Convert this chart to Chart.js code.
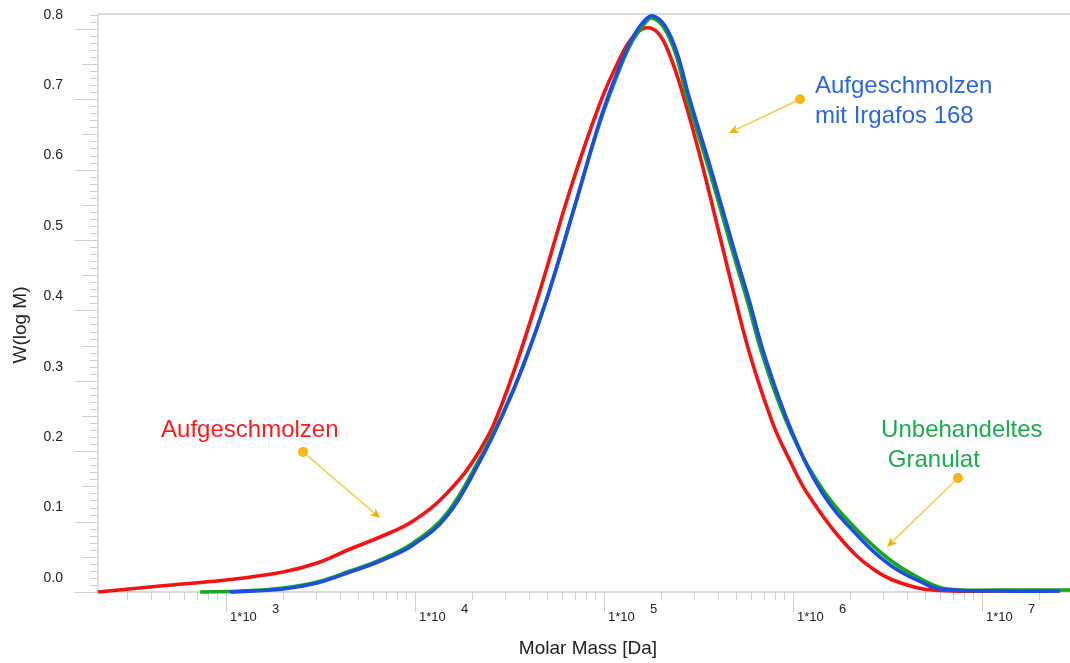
<!DOCTYPE html>
<html>
<head>
<meta charset="utf-8">
<script src="https://cdn.jsdelivr.net/npm/chart.js@4.4.1/dist/chart.umd.min.js"></script>
<style>
  html, body { margin: 0; padding: 0; background: #fff; }
  canvas { display: block; }
</style>
</head>
<body>
<canvas id="gpc" width="1070" height="663" style="width:1070px;height:663px"></canvas>
<script>
// molar mass [Da] and W(log M)
const redMass = [210.3, 447.6, 1000, 2002, 3030, 4530, 6527, 9759, 14770, 22080, 29220, 44210, 66100, 95240, 121500, 140700, 164800, 193100, 223500, 261800, 310500, 363800, 464200, 592200, 784100, 964400, 1186000, 1773000, 2650000, 4010000, 5997000, 12450000, 25240000]
const redW = [0.000, 0.0085, 0.0170, 0.0284, 0.0412, 0.0611, 0.0781, 0.1009, 0.1406, 0.2017, 0.2713, 0.4148, 0.5710, 0.6946, 0.7585, 0.7869, 0.8011, 0.7940, 0.7614, 0.7060, 0.6349, 0.5625, 0.4460, 0.3366, 0.2386, 0.1861, 0.1406, 0.0767, 0.0327, 0.0099, 0.0021, 0.0014, 0.0014]

const blueMass = [1050, 2002, 3030, 4530, 6527, 9759, 14770, 22080, 29220, 37270, 49920, 70250, 95240, 121500, 142400, 164800, 181700, 210300, 243400, 281700, 372700, 493400, 585100, 710900, 988000, 1441000, 2181000, 3261000, 4873000, 5997000, 12450000, 25860000]
const blueW = [0.000, 0.0043, 0.0128, 0.0284, 0.0440, 0.0668, 0.1080, 0.1861, 0.2528, 0.3210, 0.4176, 0.5497, 0.6705, 0.7486, 0.7884, 0.8125, 0.8182, 0.8040, 0.7656, 0.7031, 0.5952, 0.4815, 0.4148, 0.3338, 0.2273, 0.1392, 0.0810, 0.0384, 0.0128, 0.0043, 0.0014, 0.0014]

const greenMass = [728.6, 1230, 2002, 3030, 4530, 6527, 9759, 14770, 22080, 29220, 37270, 49920, 70250, 95240, 121500, 142400, 164800, 179500, 207800, 240400, 274900, 363800, 481500, 571000, 694000, 964400, 1441000, 2181000, 3261000, 4873000, 6528000, 12450000, 29220000]
const greenW = [0.000, 0.0014, 0.0057, 0.0142, 0.0298, 0.0455, 0.0696, 0.1122, 0.1903, 0.2543, 0.3210, 0.4176, 0.5497, 0.6676, 0.7443, 0.7841, 0.8082, 0.8153, 0.8011, 0.7628, 0.7017, 0.5952, 0.4815, 0.4148, 0.3338, 0.2301, 0.1449, 0.0881, 0.0455, 0.0170, 0.0043, 0.0028, 0.0028]

const seriesNames = ['Aufgeschmolzen mit Irgafos 168', 'Unbehandeltes Granulat', 'Aufgeschmolzen']

const X_MIN = 210
const X_MAX = 2.92e7
const xExponents = [3, 4, 5, 6, 7]
const Y_MAX = 0.821
const yTicks = [0, 0.1, 0.2, 0.3, 0.4, 0.5, 0.6, 0.7, 0.8]
const yTickLabels = ['0.0', '0.1', '0.2', '0.3', '0.4', '0.5', '0.6', '0.7', '0.8']

const FONT = "'Liberation Sans', Arial, Helvetica, sans-serif"
const AXIS_GREY = '#cfcfcf'
const TEXT_DARK = '#222'

// callouts: text anchor, orange dot and arrow tip, all in data coords
const callouts = [
  { lines: ['Aufgeschmolzen'], color: '#ff1a1a', text: [453, 0.220], dot: [2553, 0.199], tip: [6531, 0.105] },
  { lines: ['Aufgeschmolzen', 'mit Irgafos 168'], color: '#2a67e0', text: [1.306e6, 0.709], dot: [1.089e6, 0.700], tip: [4.58e5, 0.652] },
  { lines: ['Unbehandeltes', ' Granulat'], color: '#19ad4c', text: [2.924e6, 0.220], dot: [7.46e6, 0.162], tip: [3.14e6, 0.064] }
]

const toPoints = (mass, w) => mass.map((m, i) => ({ x: m, y: w[i] }))

const lineSet = (label, mass, w, color) => ({
  label: label,
  data: toPoints(mass, w),
  borderColor: color,
  backgroundColor: color,
  borderWidth: 3.6,
  pointRadius: 0,
  tension: 0.4,
  fill: false,
  clip: false
})

const axesPlugin = {
  id: 'axesDecor',
  beforeDatasetsDraw(chart) {
    const ctx = chart.ctx
    const { left, right, top, bottom } = chart.chartArea
    const xs = chart.scales.x
    const ys = chart.scales.y
    ctx.save()
    ctx.strokeStyle = AXIS_GREY
    ctx.lineWidth = 1.5
    ctx.beginPath()
    // frame: top, left, bottom
    ctx.moveTo(left, top); ctx.lineTo(right, top)
    ctx.moveTo(left, top); ctx.lineTo(left, bottom)
    ctx.moveTo(left, bottom); ctx.lineTo(right, bottom)
    ctx.stroke()

    ctx.lineWidth = 1
    ctx.beginPath()
    // y ticks every 0.01, medium at 0.05, long at 0.1
    for (let i = 0; i <= Math.floor(Y_MAX * 100); i++) {
      const py = Math.round(ys.getPixelForValue(i / 100)) + 0.5
      const len = i % 10 === 0 ? 23 : (i % 5 === 0 ? 16 : 8)
      ctx.moveTo(left - len, py); ctx.lineTo(left, py)
    }
    // x ticks: decades long, 2..9 short
    for (let n = 2; n <= 7; n++) {
      for (let k = 1; k <= 9; k++) {
        const m = k * Math.pow(10, n)
        if (m < X_MIN || m > X_MAX) continue
        const px = Math.round(xs.getPixelForValue(m)) + 0.5
        const len = k === 1 ? 20 : 8
        ctx.moveTo(px, bottom); ctx.lineTo(px, bottom + len)
      }
    }
    ctx.stroke()
    ctx.restore()
  },
  afterDatasetsDraw(chart) {
    const ctx = chart.ctx
    const { left, right, top, bottom } = chart.chartArea
    const xs = chart.scales.x
    const ys = chart.scales.y
    ctx.save()

    // y tick labels sit a little above their tick
    ctx.fillStyle = TEXT_DARK
    ctx.font = '14px ' + FONT
    ctx.textAlign = 'right'
    ctx.textBaseline = 'middle'
    yTicks.forEach((v, i) => {
      ctx.fillText(yTickLabels[i], left - 35, ys.getPixelForValue(v) - 14)
    })

    // x tick labels 1*10^n
    ctx.font = '13px ' + FONT
    ctx.textAlign = 'left'
    xExponents.forEach(n => {
      const px = xs.getPixelForValue(Math.pow(10, n))
      ctx.fillText('1*10', px + 4, bottom + 25)
      ctx.fillText(String(n), px + 46, bottom + 17)
    })

    // axis titles
    ctx.font = '19px ' + FONT
    ctx.textAlign = 'center'
    ctx.fillText('Molar Mass [Da]', (left + right) / 2 + 4, bottom + 57)
    ctx.save()
    ctx.translate(21, 325)
    ctx.rotate(-Math.PI / 2)
    ctx.fillText('W(log M)', 0, 0)
    ctx.restore()

    // callouts
    callouts.forEach(c => {
      const dx = xs.getPixelForValue(c.dot[0]), dy = ys.getPixelForValue(c.dot[1])
      const tx = xs.getPixelForValue(c.tip[0]), ty = ys.getPixelForValue(c.tip[1])
      const ang = Math.atan2(ty - dy, tx - dx)
      ctx.strokeStyle = '#f7cd55'
      ctx.lineWidth = 1.6
      ctx.beginPath()
      ctx.moveTo(dx, dy)
      ctx.lineTo(tx - 4 * Math.cos(ang), ty - 4 * Math.sin(ang))
      ctx.stroke()
      // arrow head
      ctx.fillStyle = '#f5b300'
      ctx.beginPath()
      ctx.moveTo(tx, ty)
      ctx.lineTo(tx - 11 * Math.cos(ang - 0.42), ty - 11 * Math.sin(ang - 0.42))
      ctx.lineTo(tx - 7 * Math.cos(ang), ty - 7 * Math.sin(ang))
      ctx.lineTo(tx - 11 * Math.cos(ang + 0.42), ty - 11 * Math.sin(ang + 0.42))
      ctx.closePath()
      ctx.fill()
      // dot
      ctx.fillStyle = '#f6b616'
      ctx.beginPath()
      ctx.arc(dx, dy, 5, 0, Math.PI * 2)
      ctx.fill()
      // text
      ctx.fillStyle = c.color
      ctx.font = '24px ' + FONT
      ctx.textAlign = 'left'
      ctx.textBaseline = 'alphabetic'
      const ax = xs.getPixelForValue(c.text[0]), ay = ys.getPixelForValue(c.text[1])
      c.lines.forEach((t, i) => ctx.fillText(t, ax, ay + i * 30))
    })
    ctx.restore()
  }
}

const config = {
  type: 'line',
  data: {
    datasets: [
      lineSet(seriesNames[0], blueMass, blueW, '#1d4ee3'),
      lineSet(seriesNames[1], greenMass, greenW, '#14a91c'),
      lineSet(seriesNames[2], redMass, redW, '#f51212')
    ]
  },
  options: {
    responsive: false,
    animation: false,
    devicePixelRatio: 1,
    layout: { padding: { top: 14, left: 0, right: 0, bottom: 0 } },
    plugins: {
      legend: { display: false },
      tooltip: { enabled: false },
      title: { display: false }
    },
    scales: {
      x: {
        type: 'logarithmic',
        min: X_MIN,
        max: X_MAX,
        ticks: { display: false },
        grid: { display: false, drawTicks: false },
        border: { display: false },
        afterFit: s => { s.height = 71 }
      },
      y: {
        type: 'linear',
        min: 0,
        max: Y_MAX,
        afterBuildTicks: s => { s.ticks = yTicks.map(v => ({ value: v })) },
        ticks: { display: false },
        grid: { display: false, drawTicks: false },
        border: { display: false },
        afterFit: s => { s.width = 98 }
      }
    }
  },
  plugins: [axesPlugin]
}

new Chart(document.getElementById('gpc'), config)
</script>
</body>
</html>
